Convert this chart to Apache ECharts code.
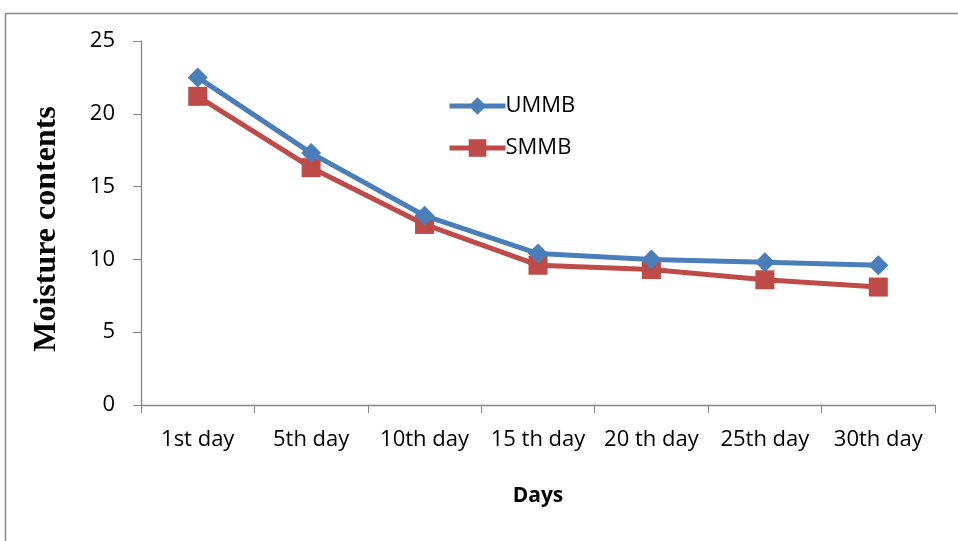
<!DOCTYPE html>
<html><head><meta charset="utf-8">
<script src="https://cdn.jsdelivr.net/npm/echarts@6/dist/echarts.min.js"></script>
<style>html,body{margin:0;padding:0;background:#fff}#c{width:958px;height:541px}</style>
</head><body><div id="c"></div>
<script>
const categories = ['1st day','5th day','10th day','15 th day','20 th day','25th day','30th day'];
const ummb = [22.5, 17.3, 13.0, 10.4, 10.0, 9.8, 9.6];
const smmb = [21.2, 16.3, 12.4, 9.6, 9.3, 8.6, 8.1];
const yTicks = [0, 5, 10, 15, 20, 25];

const chart = echarts.init(document.getElementById('c'), null, {renderer:'canvas'});
const FONT = 'Open Sans';
const lab = {fontFamily:FONT, fontSize:22, color:'#000'};
chart.setOption({
  animation:false,
  backgroundColor:'#fff',
  graphic:[{type:'polyline', shape:{points:[[5.5,541],[5.5,13.5],[958,13.5]]}, style:{stroke:'#888', lineWidth:1.5, fill:null}}],
  grid:{left:141, right:23, top:41, bottom:136},
  legend:{orient:'vertical', left:442, top:90, itemGap:20, itemWidth:56, itemHeight:22,
    textStyle:{fontFamily:FONT, fontSize:22, lineHeight:22, color:'#000', padding:[0,0,0,-5]},
    data:[{name:'UMMB', lineStyle:{width:5}}, {name:'SMMB', lineStyle:{width:5}}]},
  xAxis:{type:'category', data:categories, boundaryGap:true,
    name:'Days', nameLocation:'middle', nameGap:81,
    nameTextStyle:{fontFamily:FONT, fontWeight:'bold', fontSize:21, color:'#000'},
    axisLine:{lineStyle:{color:'#868686', width:1.3}},
    axisTick:{show:true, alignWithLabel:false, length:8, lineStyle:{color:'#868686'}},
    axisLabel:Object.assign({margin:24, interval:0}, lab)},
  yAxis:{type:'value', min:0, max:25, interval:5,
    name:'Moisture contents', nameLocation:'middle', nameGap:78, nameRotate:90,
    nameTextStyle:{fontFamily:'Liberation Serif', fontWeight:'bold', fontSize:32, color:'#000', padding:[0,0,0,-12]},
    splitLine:{show:false},
    axisLine:{show:true, lineStyle:{color:'#868686', width:1.3}},
    axisTick:{show:true, length:8, lineStyle:{color:'#868686'}},
    axisLabel:Object.assign({margin:26, formatter:v=>yTicks.includes(v)?String(v):''}, lab)},
  series:[
    {name:'UMMB', type:'line', data:ummb, symbol:'diamond', symbolSize:20,
      lineStyle:{color:'#4a7ebb', width:5}, itemStyle:{color:'#4a7ebb'}, z:3},
    {name:'SMMB', type:'line', data:smmb, symbol:'rect', symbolSize:19,
      lineStyle:{color:'#be4b48', width:5}, itemStyle:{color:'#be4b48'}, z:2}
  ]
});
</script></body></html>
